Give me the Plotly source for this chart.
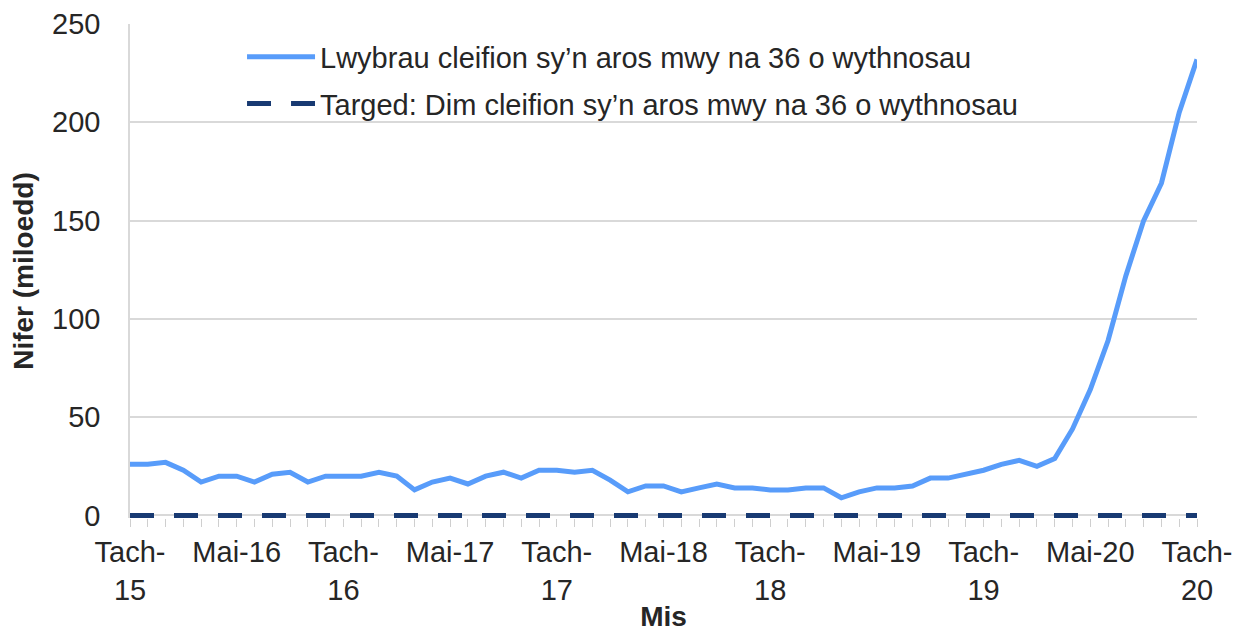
import plotly.graph_objects as go

months = ["Tach-15","Rhag-15","Ion-16","Chwef-16","Maw-16","Ebr-16","Mai-16","Meh-16","Gorff-16","Awst-16","Medi-16","Hyd-16",
          "Tach-16","Rhag-16","Ion-17","Chwef-17","Maw-17","Ebr-17","Mai-17","Meh-17","Gorff-17","Awst-17","Medi-17","Hyd-17",
          "Tach-17","Rhag-17","Ion-18","Chwef-18","Maw-18","Ebr-18","Mai-18","Meh-18","Gorff-18","Awst-18","Medi-18","Hyd-18",
          "Tach-18","Rhag-18","Ion-19","Chwef-19","Maw-19","Ebr-19","Mai-19","Meh-19","Gorff-19","Awst-19","Medi-19","Hyd-19",
          "Tach-19","Rhag-19","Ion-20","Chwef-20","Maw-20","Ebr-20","Mai-20","Meh-20","Gorff-20","Awst-20","Medi-20","Hyd-20",
          "Tach-20"]

pathways = [26, 26, 27, 23, 17, 20, 20, 17, 21, 22, 17, 20,
            20, 20, 22, 20, 13, 17, 19, 16, 20, 22, 19, 23,
            23, 22, 23, 18, 12, 15, 15, 12, 14, 16, 14, 14,
            13, 13, 14, 14, 9, 12, 14, 14, 15, 19, 19, 21,
            23, 26, 28, 25, 29, 44, 64, 89, 122, 150, 169, 205,
            232]

target = [0] * len(months)

tick_labels = ["Tach-<br>15", "Mai-16", "Tach-<br>16", "Mai-17", "Tach-<br>17", "Mai-18",
               "Tach-<br>18", "Mai-19", "Tach-<br>19", "Mai-20", "Tach-<br>20"]

x_idx = list(range(len(months)))
tick_vals = x_idx[::6]

font_family = "Liberation Sans, Arial, sans-serif"
text_color = "#262626"

fig = go.Figure()
fig.add_trace(go.Scatter(
    x=x_idx, y=pathways, mode="lines",
    name="Lwybrau cleifion sy\u2019n aros mwy na 36 o wythnosau",
    line=dict(color="#589CFA", width=5),
    legendgroup="a",
    customdata=months, hovertemplate="%{customdata}: %{y}<extra></extra>",
))
fig.add_trace(go.Scatter(
    x=x_idx, y=target, mode="lines",
    name="Targed: Dim cleifion sy\u2019n aros mwy na 36 o wythnosau",
    line=dict(color="#183A72", width=5, dash="24px,20px"),
    legendgroup="b",
    customdata=months, hovertemplate="%{customdata}: %{y}<extra></extra>",
))

fig.update_layout(
    width=1234, height=624,
    margin=dict(l=122, r=45, t=16, b=114, autoexpand=False),
    paper_bgcolor="white", plot_bgcolor="white",
    font=dict(family=font_family, size=29, color=text_color),
    showlegend=True,
    legend=dict(
        x=0.105, y=0.985, xanchor="left", yanchor="top",
        bgcolor="rgba(255,255,255,0)",
        font=dict(size=29, color=text_color),
        traceorder="grouped", tracegroupgap=6,
        itemwidth=68,
    ),
    xaxis=dict(
        range=[0, 60],
        automargin=False,
        tickvals=tick_vals, ticktext=tick_labels,
        tickfont=dict(size=29, color=text_color),
        ticks="outside", ticklen=8, tickcolor="#cfcfcf",
        minor=dict(ticks="outside", dtick=1, tick0=0, ticklen=8, tickcolor="#cfcfcf"),
        showgrid=False, zeroline=False,
        showline=False,
        title=dict(text="<b>Mis</b>", font=dict(size=28, color=text_color), standoff=9),
        tickangle=0,
    ),
    yaxis=dict(
        range=[-1.3, 250], tickvals=[0, 50, 100, 150, 200, 250],
        automargin=False,
        tickfont=dict(size=29, color=text_color),
        showgrid=True, gridcolor="#d9d9d9", gridwidth=1.5,
        zeroline=False,
        showline=True, linecolor="#d9d9d9", linewidth=1.5,
        ticks="", ticklabelstandoff=22,
        title=dict(text="<b>Nifer (miloedd)</b>", font=dict(size=28, color=text_color), standoff=10),
    ),
)

fig.write_html("out.html")
